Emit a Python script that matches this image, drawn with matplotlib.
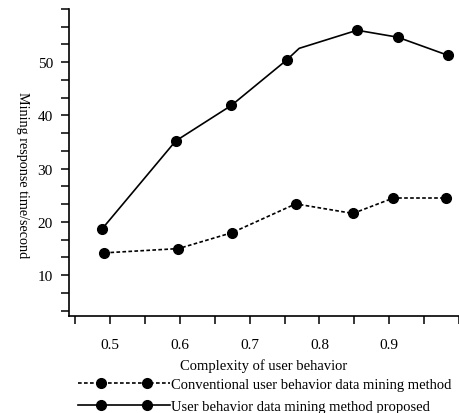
import matplotlib
matplotlib.use("Agg")
import matplotlib.pyplot as plt
from matplotlib.lines import Line2D
from matplotlib.ticker import MultipleLocator
from matplotlib.legend_handler import HandlerLine2D, HandlerTuple

plt.rcParams['font.family'] = ['Liberation Serif', 'DejaVu Serif']

# Data
x_proposed = [0.488, 0.594, 0.674, 0.753, 0.771, 0.854, 0.912, 0.984]
y_proposed = [18.6, 35.2, 41.9, 50.4, 52.6, 56.0, 54.7, 51.3]
marker_idx_proposed = [0, 1, 2, 3, 5, 6, 7]

x_conv = [0.492, 0.598, 0.675, 0.766, 0.848, 0.906, 0.981]
y_conv = [14.2, 15.0, 18.0, 23.4, 21.6, 24.5, 24.5]

label_conv = "Conventional user behavior data mining method"
label_prop = "User behavior data mining method proposed"
xlabel = "Complexity of user behavior"
ylabel = "Mining response time/second"

dash_style = (0, (2.2, 1.4))

fig = plt.figure(figsize=(4.59, 4.14), dpi=100)
ax = fig.add_axes([0.150, 0.235, 0.850, 0.741])

l1, = ax.plot(x_conv, y_conv, linestyle=dash_style, color='black', lw=1.2,
              marker='o', markersize=7, markerfacecolor='black', markeredgecolor='black')
l2, = ax.plot(x_proposed, y_proposed, linestyle='-', color='black', lw=1.2,
              marker='o', markersize=7, markevery=marker_idx_proposed,
              markerfacecolor='black', markeredgecolor='black')

ax.set_xlim(0.441, 1.0)
ax.set_ylim(2.4, 60)
ax.xaxis.set_minor_locator(MultipleLocator(0.05))
ax.yaxis.set_minor_locator(MultipleLocator(10/3))
ax.set_yticks([10, 20, 30, 40, 50])
ax.set_xticks([0.5, 0.6, 0.7, 0.8, 0.9])
ax.set_xticklabels(['0.5', '0.6', '0.7', '0.8', '0.9'])

ax.spines['top'].set_visible(False)
ax.spines['right'].set_visible(False)
for s in ['left', 'bottom']:
    ax.spines[s].set_linewidth(1.2)

ax.tick_params(axis='both', which='both', direction='out', width=1.1, labelsize=11)
ax.tick_params(axis='y', which='both', length=5.5, pad=6)
ax.tick_params(axis='x', which='both', length=6, pad=10)

ax.set_xlabel(xlabel, fontsize=10.5, labelpad=5)
fig.text(0.048, 0.577, ylabel, rotation=270, fontsize=10.2, ha='center', va='center')

# legend handles: full-width line + two inset markers
line_c = Line2D([], [], color='black', lw=1.2, linestyle=dash_style)
mark_c = Line2D([], [], color='black', lw=0, marker='o', markersize=7)
line_p = Line2D([], [], color='black', lw=1.2, linestyle='-')
mark_p = Line2D([], [], color='black', lw=0, marker='o', markersize=7)

leg = fig.legend([(line_c, mark_c), (line_p, mark_p)], [label_conv, label_prop],
                 loc='upper left', bbox_to_anchor=(0.170, 0.084), frameon=False,
                 fontsize=10.5, handlelength=6.3, handletextpad=0.05,
                 labelspacing=0.55, borderpad=0, borderaxespad=0,
                 handler_map={tuple: HandlerTuple(ndivide=1, pad=0),
                              line_c: HandlerLine2D(numpoints=1),
                              line_p: HandlerLine2D(numpoints=1),
                              mark_c: HandlerLine2D(numpoints=2, marker_pad=1.6),
                              mark_p: HandlerLine2D(numpoints=2, marker_pad=1.6)})

fig.savefig("out.png", dpi=100)
